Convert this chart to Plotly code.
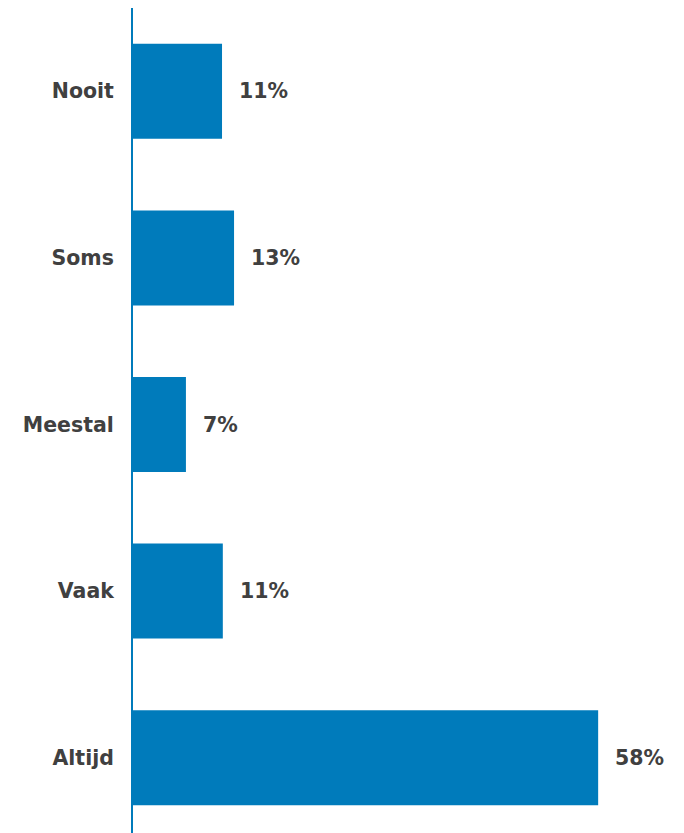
import plotly.graph_objects as go

categories = ["Nooit", "Soms", "Meestal", "Vaak", "Altijd"]
values = [11.1, 12.6, 6.6, 11.2, 58.0]
labels = ["11%", "13%", "7%", "11%", "58%"]

bar_color = "#007BBB"
text_color = "#404040"
font_family = "DejaVu Sans, Verdana, sans-serif"

fig = go.Figure()
fig.add_trace(go.Bar(
    x=values,
    y=categories,
    orientation="h",
    width=0.57,
    marker=dict(color=bar_color, line=dict(width=0)),
    hoverinfo="skip",
))

for c, v, t in zip(categories, values, labels):
    fig.add_annotation(
        x=v, y=c, text="<b>%s</b>" % t, showarrow=False,
        xanchor="left", yanchor="middle", xshift=15,
        font=dict(family=font_family, size=20.5, color=text_color),
    )

fig.update_layout(
    width=684, height=833,
    margin=dict(l=125, r=0, t=0, b=0),
    paper_bgcolor="white", plot_bgcolor="white",
    showlegend=False,
    font=dict(family=font_family, size=20, color=text_color),
    xaxis=dict(range=[0, 69.7], visible=False, fixedrange=True),
    yaxis=dict(
        categoryorder="array", categoryarray=categories,
        range=[4.5, -0.5],
        showline=True, linecolor=bar_color, linewidth=2,
        showgrid=False, zeroline=False, ticks="",
        ticklabelstandoff=13,
        tickfont=dict(family=font_family, size=20.5, color=text_color, weight="bold"),
    ),
)

fig.write_html("out.html")
